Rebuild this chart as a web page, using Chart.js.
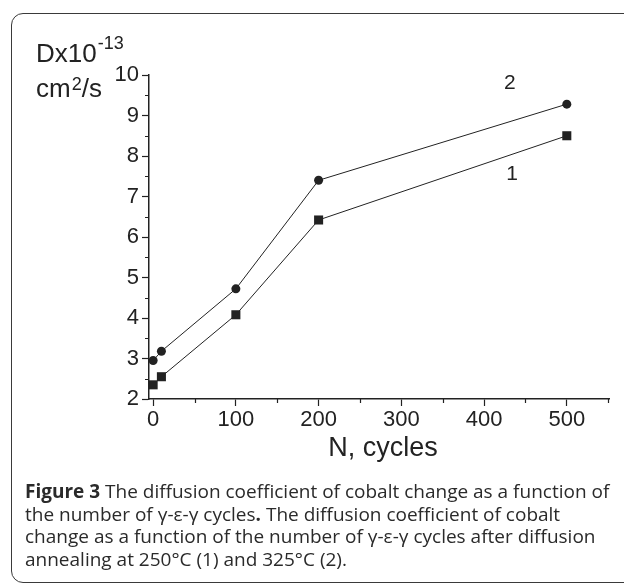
<!DOCTYPE html>
<html>
<head>
<meta charset="utf-8">
<script src="https://cdn.jsdelivr.net/npm/chart.js@4/dist/chart.umd.min.js"></script>
<style>
  html, body { margin: 0; padding: 0; background: #fff; }
  #wrap { position: relative; width: 624px; height: 583px; overflow: hidden; }
  #frame { position: absolute; left: 11px; top: 13px; width: 640px; height: 568px;
           border: 1.5px solid #3a3a3a; border-radius: 12px; }
  canvas { position: absolute; left: 0; top: 0; }
  #caption { position: absolute; left: 25px; top: 480px; font-family: 'Open Sans', sans-serif;
             font-size: 19px; line-height: 22.5px; color: #2a2a2a; white-space: nowrap; }
</style>
</head>
<body>
<div id="wrap">
  <div id="frame"></div>
  <canvas id="chart" width="624" height="583"></canvas>
  <div id="caption">
    <b>Figure 3</b> The diffusion coefficient of cobalt change as a function of<br>
    the number of γ-ε-γ cycles<b>.</b> The diffusion coefficient of cobalt<br>
    change as a function of the number of γ-ε-γ cycles after diffusion<br>
    annealing at 250°C (1) and 325°C (2).
  </div>
</div>
<script>
// N, cycles
const cycles = [0, 10, 100, 200, 500];
// D x 10^-13 cm2/s
const d250 = [2.35, 2.55, 4.08, 6.42, 8.5];   // curve 1
const d325 = [2.95, 3.18, 4.72, 7.4, 9.28];   // curve 2

const xTicks = [0, 100, 200, 300, 400, 500];
const xMinor = [50, 150, 250, 350, 450, 550];
const yTicks = [2, 3, 4, 5, 6, 7, 8, 9, 10];
const yMinor = [2.5, 3.5, 4.5, 5.5, 6.5, 7.5, 8.5, 9.5];

// curve labels, in data units
const curveLabels = [
  { text: '2', x: 431, y: 9.8 },
  { text: '1', x: 434, y: 7.56 }
];

const ink = '#222';
const fontFam = "'Liberation Sans', Arial, sans-serif";

const toPts = (ys) => cycles.map((c, i) => ({ x: c, y: ys[i] }));

const extras = {
  id: 'extras',
  afterDraw(chart) {
    const ctx = chart.ctx;
    const xs = chart.scales.x, ys = chart.scales.y;
    const area = chart.chartArea;
    ctx.save();
    ctx.strokeStyle = ink;
    ctx.lineWidth = 1.2;
    // minor ticks
    ctx.beginPath();
    xMinor.forEach(v => {
      const px = Math.round(xs.getPixelForValue(v)) + 0.5;
      ctx.moveTo(px, area.bottom);
      ctx.lineTo(px, area.bottom + 4);
    });
    yMinor.forEach(v => {
      const py = Math.round(ys.getPixelForValue(v)) + 0.5;
      ctx.moveTo(area.left, py);
      ctx.lineTo(area.left - 4, py);
    });
    ctx.stroke();

    ctx.fillStyle = ink;
    ctx.textBaseline = 'alphabetic';
    ctx.textAlign = 'left';
    // y axis title
    ctx.font = '26px ' + fontFam;
    ctx.fillText('Dx10', 36, 62);
    let w = ctx.measureText('Dx10').width;
    ctx.font = '18px ' + fontFam;
    ctx.fillText('-13', 36 + w + 1, 49);
    ctx.font = '26px ' + fontFam;
    ctx.fillText('cm', 36, 97);
    w = ctx.measureText('cm').width;
    ctx.font = '18px ' + fontFam;
    ctx.fillText('2', 36 + w + 1, 90);
    const w2 = ctx.measureText('2').width;
    ctx.font = '26px ' + fontFam;
    ctx.fillText('/s', 36 + w + w2 + 1, 97);

    // x axis title
    ctx.font = '27px ' + fontFam;
    ctx.textAlign = 'center';
    ctx.fillText('N, cycles', 383, 456);

    // curve numbers
    ctx.font = '21px ' + fontFam;
    ctx.textBaseline = 'middle';
    curveLabels.forEach(l => {
      ctx.fillText(l.text, xs.getPixelForValue(l.x), ys.getPixelForValue(l.y));
    });
    ctx.restore();
  }
};

new Chart(document.getElementById('chart').getContext('2d'), {
  type: 'line',
  data: {
    datasets: [
      {
        label: '250°C (1)',
        data: toPts(d250),
        borderColor: ink,
        borderWidth: 1,
        backgroundColor: ink,
        pointStyle: 'rect',
        pointRadius: 6.4,
        pointBorderWidth: 0,
        tension: 0
      },
      {
        label: '325°C (2)',
        data: toPts(d325),
        borderColor: ink,
        borderWidth: 1,
        backgroundColor: ink,
        pointStyle: 'circle',
        pointRadius: 4.5,
        pointBorderWidth: 0,
        tension: 0
      }
    ]
  },
  options: {
    responsive: false,
    animation: false,
    layout: { padding: { left: 0, top: 75, right: 15, bottom: 144 } },
    plugins: { legend: { display: false }, tooltip: { enabled: false } },
    scales: {
      x: {
        type: 'linear',
        min: -5,
        max: 551,
        afterFit: (s) => { s.height = 40; },
        afterBuildTicks: (s) => { s.ticks = xTicks.map(v => ({ value: v })); },
        border: { display: true, color: ink, width: 1.5 },
        grid: { display: true, drawOnChartArea: false, drawTicks: true, tickLength: 7, tickColor: ink, tickWidth: 1.2 },
        ticks: { color: ink, font: { family: fontFam, size: 22 }, padding: 1, maxRotation: 0 }
      },
      y: {
        type: 'linear',
        min: 2,
        max: 10,
        afterFit: (s) => { s.width = 149; },
        afterBuildTicks: (s) => { s.ticks = yTicks.map(v => ({ value: v })); },
        border: { display: true, color: ink, width: 1.5 },
        grid: { display: true, drawOnChartArea: false, drawTicks: true, tickLength: 7, tickColor: ink, tickWidth: 1.2 },
        ticks: { color: ink, font: { family: fontFam, size: 22 }, padding: 3 }
      }
    }
  },
  plugins: [extras]
});
</script>
</body>
</html>
